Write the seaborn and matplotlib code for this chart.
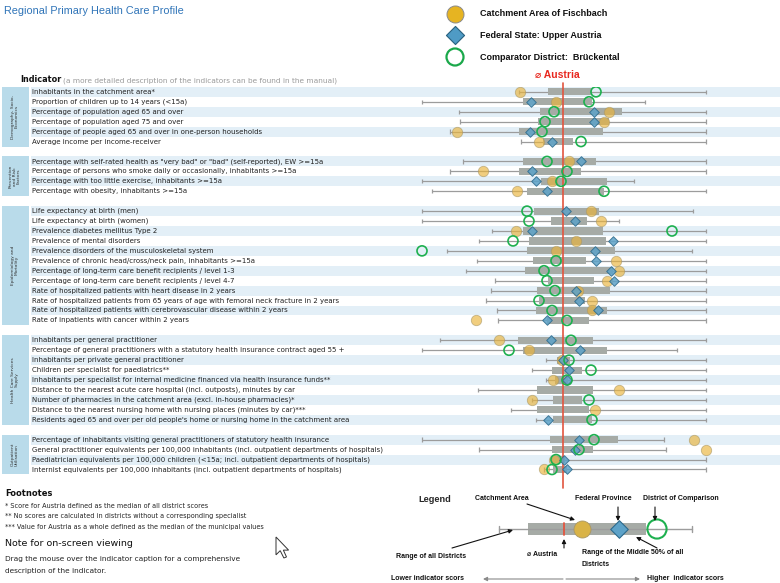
import numpy as np
import pandas as pd
import matplotlib
matplotlib.use("Agg")
import matplotlib.pyplot as plt
from matplotlib.patches import Polygon
from matplotlib.transforms import blended_transform_factory
import seaborn as sns

sns.set_style("white")
plt.rcParams['font.family'] = ['DejaVu Sans']
NARROW = ['Liberation Sans', 'DejaVu Sans']

# ---------------------------------------------------------------- data
groups = ["Demography, Socio-\nEconomics", "Prevention\nand Risk\nFactors",
          "Epidemiology and\nMortality", "Health Care Services\nSupply",
          "Outpatient\nUtilisation"]
group_sizes = [6, 4, 12, 9, 4]

indicators = [
    "Inhabitants in the catchment area*",
    "Proportion of children up to 14 years (<15a)",
    "Percentage of population aged 65 and over",
    "Percentage of population aged 75 and over",
    "Percentage of people aged 65 and over in one-person households",
    "Average income per income-receiver",
    "Percentage with self-rated health as \"very bad\" or \"bad\" (self-reported), EW >=15a",
    "Percentage of persons who smoke daily or occasionally, inhabitants >=15a",
    "Percentage with too little exercise, inhabitants >=15a",
    "Percentage with obesity, inhabitants >=15a",
    "Life expectancy at birth (men)",
    "Life expectancy at birth (women)",
    "Prevalence diabetes mellitus Type 2",
    "Prevalence of mental disorders",
    "Prevalence disorders of the musculoskeletal system",
    "Prevalence of chronic head/cross/neck pain, inhabitants >=15a",
    "Percentage of long-term care benefit recipients / level 1-3",
    "Percentage of long-term care benefit recipients / level 4-7",
    "Rate of hospitalized patients with heart disease in 2 years",
    "Rate of hospitalized patients from 65 years of age with femoral neck fracture in 2 years",
    "Rate of hospitalized patients with cerebrovascular disease within 2 years",
    "Rate of inpatients with cancer within 2 years",
    "Inhabitants per general practitioner",
    "Percentage of general practitioners with a statutory health insurance contract aged 55 +",
    "Inhabitants per private general practitioner",
    "Children per specialist for paediatrics**",
    "Inhabitants per specialist for internal medicine financed via health insurance funds**",
    "Distance to the nearest acute care hospital (incl. outposts), minutes by car",
    "Number of pharmacies in the catchment area (excl. in-house pharmacies)*",
    "Distance to the nearest nursing home with nursing places (minutes by car)***",
    "Residents aged 65 and over per old people's home or nursing home in the catchment area",
    "Percentage of inhabitants visiting general practitioners of statutory health insurance",
    "General practitioner equivalents per 100,000 inhabitants (incl. outpatient departments of hospitals)",
    "Paediatrician equivalents per 100,000 children (<15a; incl. outpatient departments of hospitals)",
    "Internist equivalents per 100,000 inhabitants (incl. outpatient departments of hospitals)",
]

# standardised scores, Austria = 0
nan = np.nan
range_lo = [-44, -141, -104, -103, -113, -42,
            -100, -113, -141, -131,
            -141, -141, -71, -84, -116, -86, -97, -68, -72, -77, -66, -65,
            -123, -141, -17, -31, -17, -85, -31, -52, -27,
            -141, -84, -11, -19]
range_hi = [143, 82, 143, 143, 143, 143,
            143, 143, 71, 143,
            130, 56, 143, 143, 129, 143, 143, 143, 143, 143, 143, 143,
            143, 114, 143, 143, 143, 143, 143, 143, 143,
            101, 103, 143, 143]
q1 = [-15, -40, -23, -25, -44, -20,
      -40, -44, -22, -36,
      -29, -12, -40, -34, -36, -30, -38, -15, -26, -24, -27, -16,
      -45, -40, -6, -11, -8, -26, -10, -26, -10,
      -13, -11, -10, -10]
q3 = [29, 29, 59, 46, 40, 10,
      33, 18, 44, 41,
      36, 24, 40, 43, 52, 23, 50, 31, 47, 22, 44, 26,
      30, 44, 7, 19, 5, 30, 19, 26, 29,
      55, 30, 2, 4]
catchment = [-43, -7, 46, 41, -106, -24,
             6, -80, -11, -46,
             28, 38, -47, 13, -7, 53, 56, 44, 15, 29, 29, -87,
             -64, -34, -1, nan, -10, 56, -31, 32, nan,
             131, 143, -9, -19]
state = [nan, -32, 31, 31, -33, -11,
         18, -31, -27, -16,
         3, 12, -31, 50, 32, 33, 48, 51, 13, 16, 35, -16,
         -12, 17, 0, 6, 4, nan, nan, nan, -15,
         16, 12, 1, 4]
comparator = [33, 26, -9, -18, -21, 18,
              -16, 4, -2, 41,
              -36, -34, 109, -50, -141, -7, -19, -16, -8, -24, -11, 4,
              8, -54, 6, 28, 4, nan, 26, nan, 29,
              31, 16, -7, -11]

# ---------------------------------------------------------------- layout
pos, grp_span, p = [], [], 0
for n in group_sizes:
    grp_span.append((p, p + n - 1))
    pos.extend(range(p, p + n))
    p += n + 1
pos = np.array(pos)
nrows = p - 1

W, H = 780, 583
fig = plt.figure(figsize=(W / 100, H / 100), dpi=100)
top_px, bot_px = 86.9, 484.4
ax = fig.add_axes([0, 1 - bot_px / H, 1, (bot_px - top_px) / H])

stripe = '#e3eff7'
gbox = '#b9dbea'
tr = blended_transform_factory(ax.transAxes, ax.transData)

for (a, b), g in zip(grp_span, groups):
    ax.axhspan(a - 0.5, b + 0.5, xmin=0.002, xmax=29.5 / W, color=gbox, lw=0, zorder=0)
    for r in range(a, b + 1, 2):
        ax.axhspan(r - 0.5, r + 0.5, xmin=30.5 / W, xmax=1, color=stripe, lw=0, zorder=0)
    ax.text(15 / W, (a + b) / 2, g, transform=tr, rotation=90, ha='center', va='center',
            fontsize=3.2, color='#333333', linespacing=1.0)

for y, lab in zip(pos, indicators):
    ax.text(32 / W, y, lab, transform=tr, va='center', ha='left', fontsize=5.0, color='#222222')

lo = np.array(range_lo, float); hi = np.array(range_hi, float)
ax.hlines(pos, lo, hi, color='#9c9c9c', lw=0.9, zorder=1)
ax.vlines(lo, pos - 0.22, pos + 0.22, color='#9c9c9c', lw=0.9, zorder=1)
ax.vlines(hi, pos - 0.22, pos + 0.22, color='#9c9c9c', lw=0.9, zorder=1)
ax.barh(pos, np.array(q3) - np.array(q1), left=q1, height=0.72, color='#a6aba6', lw=0, zorder=2)
ax.axvline(0, ymin=-0.008, ymax=1.01, color='#e2553f', lw=1.2, zorder=3, clip_on=False)

df = pd.DataFrame({'pos': pos, 'catchment': catchment, 'state': state, 'comparator': comparator})
sns.scatterplot(data=df, x='catchment', y='pos', ax=ax, marker='o', s=56, color='#eab43a',
                alpha=0.65, edgecolor='#a89766', linewidth=0.6, zorder=4)
sns.scatterplot(data=df, x='state', y='pos', ax=ax, marker='D', s=24, color='#5da2c8',
                alpha=0.85, edgecolor='#2d6a8c', linewidth=0.7, zorder=5)
sns.scatterplot(data=df, x='comparator', y='pos', ax=ax, marker='o', s=52, color='none',
                edgecolor='#1eb04f', linewidth=1.2, zorder=6)

ax.set_xlim(-563, W - 563)
ax.set_ylim(nrows + 0.5, -0.5)
ax.set_axis_off()

# ---------------------------------------------------------------- page layout / annotations
lay = fig.add_axes([0, 0, 1, 1], zorder=10)
lay.set_xlim(0, W); lay.set_ylim(H, 0); lay.set_axis_off()

lay.text(4, 11, "Regional Primary Health Care Profile", fontsize=7.8, color='#2f74b8',
         family=NARROW, va='center', ha='left')

lay.scatter([455], [14], s=150, color='#e6b422', edgecolor='#8a8a8a', linewidth=0.7)
lay.scatter([455], [35], s=85, marker='D', color='#4f9bc5', edgecolor='#27607f', linewidth=0.8)
lay.scatter([455], [57], s=150, color='none', edgecolor='#1aa84a', linewidth=1.6)
for yy, t in zip([14, 35, 57], ["Catchment Area of Fischbach", "Federal State: Upper Austria",
                                "Comparator District:  Brückental"]):
    lay.text(480, yy, t, fontsize=6.5, fontweight='bold', family=NARROW, va='center', color='#111111')

lay.text(20, 80, "Indicator", fontsize=5.9, fontweight='bold', va='center', color='#111111')
lay.text(63, 80.5, "(a more detailed description of the indicators can be found in the manual)",
         fontsize=5.3, va='center', color='#9a9a9a')
lay.text(557, 75, "\u2300 Austria", fontsize=7.5, fontweight='bold', family=NARROW, va='center',
         ha='center', color='#e8281f')

# footnotes
lay.text(5, 494, "Footnotes", fontsize=6.0, fontweight='bold', va='center', color='#111111')
for yy, t in zip([506, 516, 527], ["* Score for Austria defined as the median of all district scores",
                                   "** No scores are calculated in districts without a corresponding specialist",
                                   "*** Value for Austria as a whole defined as the median of the municipal values"]):
    lay.text(5, yy, t, fontsize=4.7, va='center', color='#222222')
lay.text(5, 543, "Note for on-screen viewing", fontsize=6.8, va='center', color='#111111')
lay.text(5, 559, "Drag the mouse over the indicator caption for a comprehensive", fontsize=5.3,
         va='center', color='#222222')
lay.text(5, 571, "description of the indicator.", fontsize=5.3, va='center', color='#222222')

cur = np.array([[0, 0], [0, 17], [4, 13], [7.5, 20], [10, 19], [7, 12.5], [12, 12.5]]) * 1.05
lay.add_patch(Polygon(cur + [276, 537], closed=True, facecolor='white', edgecolor='#333333', lw=0.7))

# legend sketch
lay.text(418, 500, "Legend", fontsize=6.6, fontweight='bold', family=NARROW, va='center')
lay.plot([499, 692], [529, 529], color='#9c9c9c', lw=1.0)
lay.plot([499, 499], [526, 532], color='#9c9c9c', lw=1.0)
lay.plot([692, 692], [526, 532], color='#9c9c9c', lw=1.0)
lay.add_patch(plt.Rectangle((528, 523), 118, 12, color='#a6aba6', lw=0))
lay.plot([564, 564], [523, 535], color='#e2553f', lw=1.3)
lay.scatter([582], [529], s=150, color='#d9b347', edgecolor='#a89766', linewidth=0.6, zorder=3)
lay.scatter([619], [529], s=80, marker='D', color='#5da2c8', edgecolor='#2d6a8c', linewidth=0.8, zorder=3)
lay.scatter([657], [529], s=190, color='none', edgecolor='#1eb04f', linewidth=1.5, zorder=3)

lk = dict(fontsize=5.0, fontweight='bold', family=NARROW, va='center', color='#111111')
lay.text(475, 499, "Catchment Area", **lk)
lay.text(575, 499, "Federal Province", **lk)
lay.text(643, 499, "District of Comparison", **lk)
lay.text(396, 556, "Range of all Districts", **lk)
lay.text(527, 554, "\u2300 Austria", **lk)
lay.text(582, 553, "Range of the Middle 50% of all", **lk)
lay.text(582, 564, "Districts", **lk)
lay.text(391, 579, "Lower indicator scors", **lk)
lay.text(647, 579, "Higher  indicator scors", **lk)

ak = dict(arrowstyle='-|>', color='#111111', lw=0.8, mutation_scale=6, shrinkA=0, shrinkB=0)
lay.annotate('', xy=(575, 520), xytext=(527, 504), arrowprops=ak)
lay.annotate('', xy=(618, 521), xytext=(618, 507), arrowprops=ak)
lay.annotate('', xy=(655, 521), xytext=(655, 507), arrowprops=ak)
lay.annotate('', xy=(513, 530), xytext=(452, 548), arrowprops=ak)
lay.annotate('', xy=(564, 539), xytext=(564, 548), arrowprops=ak)
lay.annotate('', xy=(636, 537), xytext=(657, 548), arrowprops=ak)
gk = dict(arrowstyle='-|>', color='#8a8a8a', lw=0.8, mutation_scale=6, shrinkA=0, shrinkB=0)
lay.annotate('', xy=(483, 579), xytext=(563, 579), arrowprops=gk)
lay.annotate('', xy=(640, 579), xytext=(566, 579), arrowprops=gk)

fig.savefig('out.png', dpi=100)
